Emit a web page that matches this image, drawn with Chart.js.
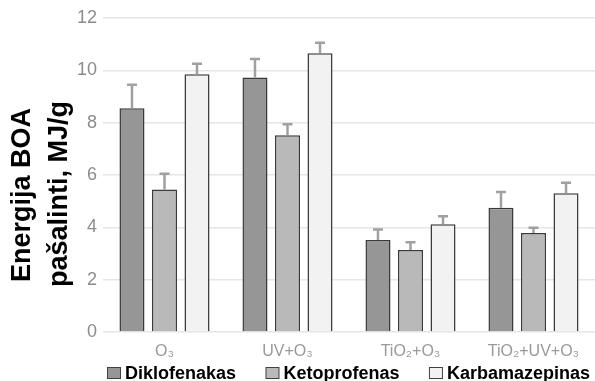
<!DOCTYPE html>
<html>
<head>
<meta charset="utf-8">
<script src="https://cdn.jsdelivr.net/npm/chart.js@4"></script>
<style>
  html, body { margin: 0; padding: 0; background: #fff; }
  #wrap { width: 595px; height: 381px; position: relative; }
</style>
</head>
<body>
<div id="wrap"><canvas id="chart"></canvas></div>
<script>
// Data
const categories = ["O₃", "UV+O₃", "TiO₂+O₃", "TiO₂+UV+O₃"];
const seriesNames = ["Diklofenakas", "Ketoprofenas", "Karbamazepinas"];
const diklofenakas = [8.55, 9.73, 3.52, 4.75];
const ketoprofenas = [5.45, 7.52, 3.13, 3.78];
const karbamazepinas = [9.85, 10.65, 4.12, 5.30];
// upper error (standard deviation)
const errDiklofenakas = [0.90, 0.70, 0.40, 0.60];
const errKetoprofenas = [0.60, 0.42, 0.30, 0.20];
const errKarbamazepinas = [0.40, 0.40, 0.30, 0.40];
const yTicks = [0, 2, 4, 6, 8, 10, 12];
const yTitle = ["Energija BOA", "pašalinti, MJ/g"];

const fills = ["#969696", "#b9b9b9", "#f2f2f2"];
const errors = [errDiklofenakas, errKetoprofenas, errKarbamazepinas];

// Error bars (upward only)
const errorBars = {
    id: "errorBars",
    afterDatasetsDraw(chart) {
        const ctx = chart.ctx;
        const y = chart.scales.y;
        ctx.save();
        ctx.strokeStyle = "#a0a0a0";
        ctx.lineWidth = 2.5;
        chart.data.datasets.forEach((ds, i) => {
            const meta = chart.getDatasetMeta(i);
            meta.data.forEach((bar, j) => {
                const top = y.getPixelForValue(ds.data[j] + errors[i][j]);
                ctx.beginPath();
                ctx.moveTo(bar.x, bar.y);
                ctx.lineTo(bar.x, top);
                ctx.moveTo(bar.x - 5, top);
                ctx.lineTo(bar.x + 5, top);
                ctx.stroke();
            });
        });
        ctx.restore();
    }
};

// Y title + legend
const extras = {
    id: "extras",
    afterDraw(chart) {
        const ctx = chart.ctx;
        const area = chart.chartArea;
        ctx.save();
        // axis title
        ctx.fillStyle = "#000";
        ctx.font = "bold 27px 'Liberation Sans', Arial, sans-serif";
        ctx.textAlign = "center";
        ctx.textBaseline = "alphabetic";
        [[30, 195], [67, 194]].forEach((p, i) => {
            ctx.save();
            ctx.translate(p[0], p[1]);
            ctx.rotate(-Math.PI / 2);
            ctx.fillText(yTitle[i], 0, 0);
            ctx.restore();
        });

        // legend spread across plot width
        ctx.font = "bold 18px 'Liberation Sans', Arial, sans-serif";
        ctx.textAlign = "left";
        const boxW = 13, boxH = 11, gapText = 5;
        const start = area.left + 4, end = area.right - 5;
        const widths = chart.data.datasets.map(ds => boxW + gapText + ctx.measureText(ds.label).width);
        const total = widths.reduce((a, b) => a + b, 0);
        const gap = (end - start - total) / (widths.length - 1);
        let x = start;
        chart.data.datasets.forEach((ds, i) => {
            ctx.fillStyle = ds.backgroundColor;
            ctx.fillRect(x + 0.5, 367.5, boxW, boxH);
            ctx.strokeStyle = "#404040";
            ctx.lineWidth = 1;
            ctx.strokeRect(x + 0.5, 367.5, boxW, boxH);
            ctx.fillStyle = "#000";
            ctx.fillText(ds.label, x + boxW + gapText, 378.5);
            x += widths[i] + gap;
        });
        ctx.restore();
    }
};

const datasets = [diklofenakas, ketoprofenas, karbamazepinas].map((vals, i) => ({
    label: seriesNames[i],
    data: vals,
    backgroundColor: fills[i],
    borderColor: "#3a3a3a",
    borderWidth: 1.5,
    categoryPercentage: 0.793,
    barPercentage: 0.77
}));

new Chart(document.getElementById("chart"), {
    type: "bar",
    data: { labels: categories, datasets: datasets },
    options: {
        responsive: true,
        maintainAspectRatio: false,
        animation: false,
        layout: { padding: { top: 18, right: 0, left: 0, bottom: 16 } },
        plugins: {
            legend: { display: false },
            tooltip: { enabled: false }
        },
        scales: {
            x: {
                afterFit(scale) { scale.height = 33; },
                grid: { display: false, drawTicks: false },
                border: { display: false },
                ticks: {
                    color: "#999999",
                    padding: 10,
                    font: { family: "'Liberation Sans', Arial, sans-serif", size: 16 }
                }
            },
            y: {
                min: 0,
                max: 12,
                afterFit(scale) { scale.width = 103; },
                afterBuildTicks(scale) { scale.ticks = yTicks.map(v => ({ value: v })); },
                grid: { color: "#e6e6e6", lineWidth: 1.5, drawTicks: false },
                border: { display: false },
                ticks: {
                    color: "#8c8c8c",
                    padding: 6,
                    font: { family: "'Liberation Sans', Arial, sans-serif", size: 18 }
                }
            }
        }
    },
    plugins: [errorBars, extras]
});
</script>
</body>
</html>
